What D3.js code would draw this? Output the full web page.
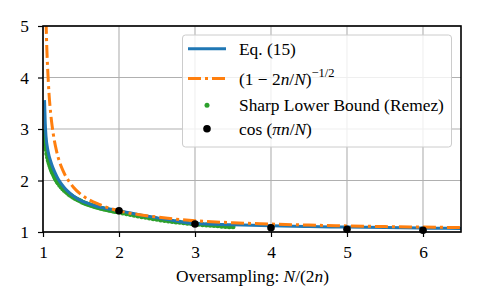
<!DOCTYPE html>
<html><head><meta charset="utf-8">
<script src="https://cdn.jsdelivr.net/npm/d3@7"></script>
<style>
body{margin:0;background:#fff;}
</style></head>
<body><svg id="c" width="485" height="303"></svg>
<script>
// ---- data ----
const xTicks = [1, 2, 3, 4, 5, 6];
const yTicks = [1, 2, 3, 4, 5];
const legendLabels = ["Eq. (15)", "(1 − 2n/N)^(−1/2)", "Sharp Lower Bound (Remez)", "cos (πn/N)"];

// Eq. (15) curve
const eqX = [1.02, 1.03, 1.04, 1.06, 1.08, 1.10, 1.13, 1.16, 1.20, 1.25, 1.30, 1.35, 1.40, 1.50, 1.60, 1.70, 1.80, 1.90, 2.00, 2.25, 2.50, 2.75, 3.00, 3.50, 4.00, 4.50, 5.00, 5.50, 6.00, 6.50];
const eqY = [3.56, 3.10, 2.85, 2.62, 2.48, 2.38, 2.25, 2.15, 2.03, 1.92, 1.83, 1.76, 1.70, 1.61, 1.55, 1.50, 1.465, 1.44, 1.415, 1.34, 1.275, 1.215, 1.165, 1.14, 1.12, 1.105, 1.095, 1.085, 1.075, 1.07];

// (1 - 2n/N)^(-1/2) curve
const boundX = [1.04, 1.05, 1.06, 1.07, 1.08, 1.10, 1.12, 1.15, 1.18, 1.22, 1.26, 1.30, 1.35, 1.40, 1.50, 1.60, 1.75, 1.90, 2.00, 2.25, 2.50, 2.75, 3.00, 3.50, 4.00, 4.50, 5.00, 5.50, 6.00, 6.50];
const boundY = [5.10, 4.58, 4.21, 3.92, 3.67, 3.32, 3.06, 2.77, 2.56, 2.35, 2.20, 2.08, 1.97, 1.87, 1.73, 1.63, 1.53, 1.45, 1.41, 1.34, 1.29, 1.25, 1.22, 1.18, 1.155, 1.134, 1.118, 1.105, 1.095, 1.087];

// Sharp lower bound (Remez) points
const remezX = [1.010, 1.015, 1.020, 1.025, 1.030, 1.035, 1.040, 1.050, 1.060, 1.070, 1.080, 1.090, 1.100, 1.110, 1.120, 1.130, 1.140, 1.150, 1.160, 1.170, 1.180, 1.190,
  1.20, 1.22, 1.24, 1.26, 1.28, 1.30, 1.32, 1.34, 1.36, 1.38, 1.40, 1.42, 1.44, 1.46, 1.48, 1.50, 1.52, 1.54, 1.56, 1.58, 1.60, 1.62, 1.64, 1.66, 1.68, 1.70, 1.72, 1.74, 1.76, 1.78, 1.80, 1.82, 1.84, 1.86, 1.88, 1.90, 1.92, 1.94, 1.96, 1.98,
  2.00, 2.05, 2.10, 2.15, 2.20, 2.25, 2.30, 2.35, 2.40, 2.45, 2.50, 2.55, 2.60, 2.65, 2.70, 2.75, 2.80, 2.85, 2.90, 2.95, 3.00, 3.05, 3.10, 3.15, 3.20, 3.25, 3.30, 3.35, 3.40, 3.45, 3.50];
const remezY = [2.95, 2.88, 2.82, 2.76, 2.70, 2.65, 2.60, 2.52, 2.45, 2.39, 2.34, 2.29, 2.25, 2.21, 2.17, 2.14, 2.11, 2.08, 2.05, 2.02, 2.00, 1.97,
  1.95, 1.91, 1.875, 1.84, 1.81, 1.785, 1.76, 1.735, 1.715, 1.695, 1.675, 1.655, 1.64, 1.625, 1.61, 1.595, 1.58, 1.57, 1.555, 1.545, 1.535, 1.525, 1.515, 1.505, 1.495, 1.487, 1.479, 1.471, 1.463, 1.456, 1.449, 1.442, 1.435, 1.428, 1.422, 1.416, 1.41, 1.404, 1.398, 1.392,
  1.387, 1.37, 1.355, 1.34, 1.325, 1.31, 1.297, 1.284, 1.27, 1.258, 1.246, 1.235, 1.225, 1.215, 1.205, 1.196, 1.187, 1.179, 1.171, 1.163, 1.156, 1.149, 1.142, 1.136, 1.130, 1.124, 1.119, 1.114, 1.109, 1.104, 1.10];

// cos(pi n / N) points
const cosX = [2, 3, 4, 5, 6];
const cosY = [1.414, 1.155, 1.082, 1.051, 1.035];

// ---- layout ----
const L = 43, R = 461, T = 26, B = 232;
const FONT = "'Liberation Serif', 'Times New Roman', serif";
const svg = d3.select("#c").style("font-family", FONT);

// fit font size so the legend's longest label matches the reference width
const probe = svg.append("text").attr("font-size", 14).text(legendLabels[2]);
const w14 = probe.node().getComputedTextLength();
probe.remove();
const fs = Math.max(13, Math.min(18, 14 * 205 / (w14 || 205)));

const x = d3.scaleLinear().domain([1, 6.5]).range([L, R]);
const y = d3.scaleLinear().domain([1, 5]).range([B, T]);

svg.append("defs").append("clipPath").attr("id", "clip")
  .append("rect").attr("x", L).attr("y", T).attr("width", R - L).attr("height", B - T);

// grid
const grid = svg.append("g").attr("stroke", "#b0b0b0").attr("stroke-width", 1.1);
xTicks.forEach(v => grid.append("line").attr("x1", x(v)).attr("x2", x(v)).attr("y1", T).attr("y2", B));
yTicks.forEach(v => grid.append("line").attr("x1", L).attr("x2", R).attr("y1", y(v)).attr("y2", y(v)));

const plot = svg.append("g").attr("clip-path", "url(#clip)");

const green = "#2ca02c", blue = "#1f77b4", orange = "#ff7f0e";
plot.append("g").selectAll("circle").data(remezX).join("circle")
  .attr("cx", (d) => x(d)).attr("cy", (d, i) => y(remezY[i])).attr("r", 2.5).attr("fill", green);

const line = d3.line().x(d => x(d[0])).y(d => y(d[1])).curve(d3.curveMonotoneX);
plot.append("path").datum(eqX.map((v, i) => [v, eqY[i]])).attr("d", line)
  .attr("fill", "none").attr("stroke", blue).attr("stroke-width", 3);
plot.append("path").datum(boundX.map((v, i) => [v, boundY[i]])).attr("d", line)
  .attr("fill", "none").attr("stroke", orange).attr("stroke-width", 3)
  .attr("stroke-dasharray", "13,4,3,4");

svg.append("g").selectAll("circle").data(cosX).join("circle")
  .attr("cx", d => x(d)).attr("cy", (d, i) => y(cosY[i])).attr("r", 3.8).attr("fill", "#000");

// axes
const xAxis = svg.append("g").attr("transform", `translate(0,${B})`)
  .call(d3.axisBottom(x).tickValues(xTicks).tickSize(5).tickPadding(4).tickFormat(d3.format("d")));
const yAxis = svg.append("g").attr("transform", `translate(${L},0)`)
  .call(d3.axisLeft(y).tickValues(yTicks).tickSize(5).tickPadding(9).tickFormat(d3.format("d")));
[xAxis, yAxis].forEach(a => {
  a.attr("font-family", FONT).attr("font-size", fs);
  a.select(".domain").remove();
  a.selectAll(".tick line").attr("stroke", "#000").attr("stroke-width", 1.2);
  a.selectAll(".tick text").attr("fill", "#000");
});
xAxis.selectAll(".tick text").attr("dy", "0.95em");
yAxis.selectAll(".tick text").attr("dy", "0.34em");

// frame
svg.append("rect").attr("x", L).attr("y", T).attr("width", R - L).attr("height", B - T)
  .attr("fill", "none").attr("stroke", "#000").attr("stroke-width", 1.6);

// x label
const xl = svg.append("text").attr("x", (L + R) / 2 + 0.5).attr("y", 282).attr("text-anchor", "middle")
  .attr("font-size", fs).attr("fill", "#000");
xl.append("tspan").text("Oversampling: ");
xl.append("tspan").attr("font-style", "italic").text("N");
xl.append("tspan").text("/(2");
xl.append("tspan").attr("font-style", "italic").text("n");
xl.append("tspan").text(")");

// legend
const lg = svg.append("g");
lg.append("rect").attr("x", 182.5).attr("y", 35).attr("width", 269).attr("height", 112).attr("rx", 3)
  .attr("fill", "#fff").attr("fill-opacity", 0.8).attr("stroke", "#cccccc").attr("stroke-width", 1);
const rows = [48.7, 78.5, 105.3, 128.7];
const hx0 = 188, hx1 = 226, tx = 239;
lg.append("line").attr("x1", hx0).attr("x2", hx1).attr("y1", rows[0]).attr("y2", rows[0])
  .attr("stroke", blue).attr("stroke-width", 3);
lg.append("line").attr("x1", hx0).attr("x2", hx1).attr("y1", rows[1]).attr("y2", rows[1])
  .attr("stroke", orange).attr("stroke-width", 3).attr("stroke-dasharray", "13,4,3,4");
lg.append("circle").attr("cx", 207).attr("cy", rows[2]).attr("r", 2.5).attr("fill", green);
lg.append("circle").attr("cx", 207).attr("cy", rows[3]).attr("r", 3.8).attr("fill", "#000");

lg.append("text").attr("x", tx).attr("y", rows[0]).attr("dy", "0.34em").attr("font-size", fs).text(legendLabels[0]);
const t1 = lg.append("text").attr("x", tx).attr("y", rows[1] + 6).attr("font-size", fs);
t1.append("tspan").text("(1 − 2");
t1.append("tspan").attr("font-style", "italic").text("n");
t1.append("tspan").text("/");
t1.append("tspan").attr("font-style", "italic").text("N");
t1.append("tspan").text(")");
t1.append("tspan").attr("dy", -8).attr("font-size", fs * 0.72).text("−1/2");
lg.append("text").attr("x", tx).attr("y", rows[2]).attr("dy", "0.34em").attr("font-size", fs).text(legendLabels[2]);
const t3 = lg.append("text").attr("x", tx).attr("y", rows[3]).attr("dy", "0.34em").attr("font-size", fs);
t3.append("tspan").text("cos (");
t3.append("tspan").attr("font-style", "italic").text("πn");
t3.append("tspan").text("/");
t3.append("tspan").attr("font-style", "italic").text("N");
t3.append("tspan").text(")");
</script></body></html>
